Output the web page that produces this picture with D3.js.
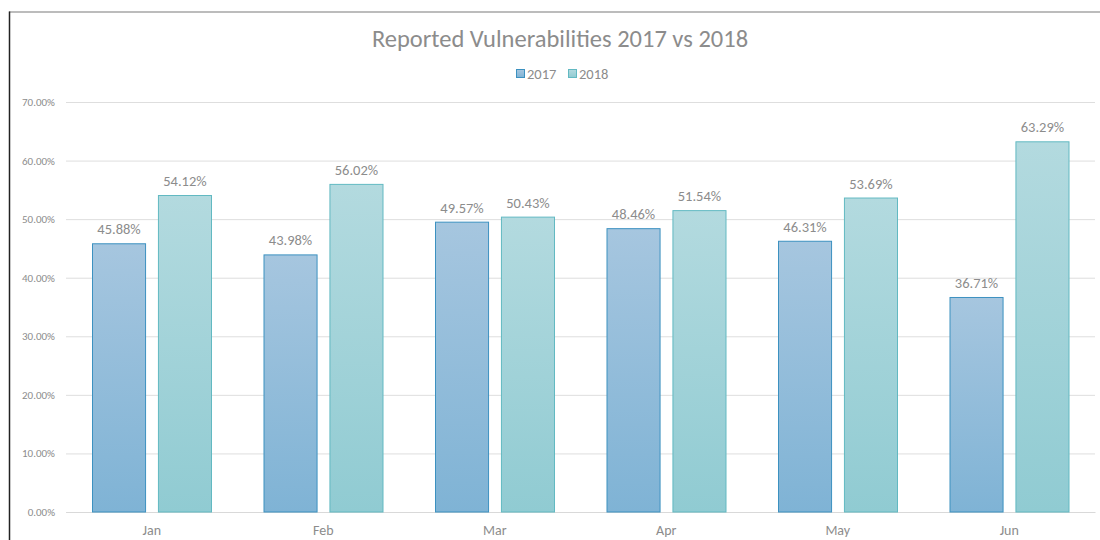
<!DOCTYPE html>
<html><head><meta charset="utf-8">
<script src="https://cdn.jsdelivr.net/npm/d3@7"></script>
<style>body{margin:0;background:#fff;} svg{display:block;font-family:Carlito,Lato,sans-serif;}</style>
</head><body>
<svg id="c" width="1100" height="540"></svg>
<script>
const months = ["Jan","Feb","Mar","Apr","May","Jun"];
const seriesNames = ["2017","2018"];
const values2017 = [45.88,43.98,49.57,48.46,46.31,36.71];
const values2018 = [54.12,56.02,50.43,51.54,53.69,63.29];
const yTicks = [0,10,20,30,40,50,60,70];

const FONT = "Carlito,Lato,sans-serif";
const svg = d3.select("#c");
const m = {l:66, r:1095, t:102, b:512};
const x = d3.scaleBand().domain(months).range([m.l, m.r]).paddingInner(0).paddingOuter(0);
const xs = d3.scaleBand().domain(seriesNames).range([26, x.bandwidth()-25.5]).paddingInner(0.18);
const y = d3.scaleLinear().domain([0,70]).range([m.b, m.t]);

const defs = svg.append("defs");
const grads = [
  {id:"g2017", top:"#a6c6df", bot:"#7fb3d5", stroke:"#3c91c0"},
  {id:"g2018", top:"#b3dadf", bot:"#90cbd2", stroke:"#62b9c2"}
];
grads.forEach(g=>{
  const lg = defs.append("linearGradient").attr("id",g.id).attr("x1",0).attr("y1",0).attr("x2",0).attr("y2",1);
  lg.append("stop").attr("offset","0%").attr("stop-color",g.top);
  lg.append("stop").attr("offset","100%").attr("stop-color",g.bot);
});

// border
svg.append("line").attr("x1",9).attr("x2",1100).attr("y1",12).attr("y2",12).attr("stroke","#a6a6a6").attr("stroke-width",1.5);
svg.append("line").attr("x1",9.5).attr("x2",9.5).attr("y1",11.5).attr("y2",540).attr("stroke","#222").attr("stroke-width",1.5);

// title
svg.append("text").attr("x",560).attr("y",47).attr("text-anchor","middle").attr("fill","#8c8c8c").attr("font-size",24.5).text("Reported Vulnerabilities 2017 vs 2018");

// legend
const legX = [516, 568];
seriesNames.forEach((s,i)=>{
  svg.append("rect").attr("x",legX[i]+0.5).attr("y",69.5).attr("width",8).attr("height",8).attr("fill",`url(#${grads[i].id})`).attr("stroke",grads[i].stroke);
  svg.append("text").attr("x",legX[i]+11).attr("y",78.5).attr("fill","#8c8c8c").attr("font-size",14.5).text(s);
});

// grid + y axis
const yAxis = d3.axisLeft(y).tickValues(yTicks).tickSize(-(m.r-m.l)).tickFormat(d=>d3.format(".2f")(d)+"%");
const ga = svg.append("g").attr("transform",`translate(${m.l},0)`).call(yAxis);
ga.select(".domain").remove();
ga.selectAll(".tick line").attr("stroke","#dedede");
ga.selectAll(".tick text").attr("fill","#8c8c8c").attr("font-size",11).attr("x",-11).attr("font-family",FONT);

// x axis
const xAxis = d3.axisBottom(x).tickSize(0);
const gx = svg.append("g").attr("transform",`translate(0,${m.b})`).call(xAxis);
gx.select(".domain").attr("stroke","#d9d9d9");
gx.selectAll(".tick text").attr("fill","#8c8c8c").attr("font-size",14).attr("dy","1.45em").attr("font-family",FONT);

const data = months.map((mo,i)=>({mo, vals:[values2017[i], values2018[i]]}));
const groups = svg.append("g").selectAll("g").data(data).join("g").attr("transform",d=>`translate(${x(d.mo)},0)`);
groups.selectAll("rect").data(d=>d.vals.map((v,i)=>({s:seriesNames[i], v, i}))).join("rect")
  .attr("x",d=>xs(d.s)+0.5).attr("y",d=>y(d.v)+0.5)
  .attr("width",xs.bandwidth()-1).attr("height",d=>y(0)-y(d.v)-0.5)
  .attr("fill",d=>`url(#${grads[d.i].id})`).attr("stroke",d=>grads[d.i].stroke).attr("stroke-width",1);
groups.selectAll("text.lbl").data(d=>d.vals.map((v,i)=>({s:seriesNames[i], v, i}))).join("text").attr("class","lbl")
  .attr("x",d=>xs(d.s)+xs.bandwidth()/2).attr("y",d=>y(d.v)-9)
  .attr("text-anchor","middle").attr("fill","#8c8c8c").attr("font-size",14.5)
  .text(d=>d3.format(".2f")(d.v)+"%");
</script>
</body></html>
